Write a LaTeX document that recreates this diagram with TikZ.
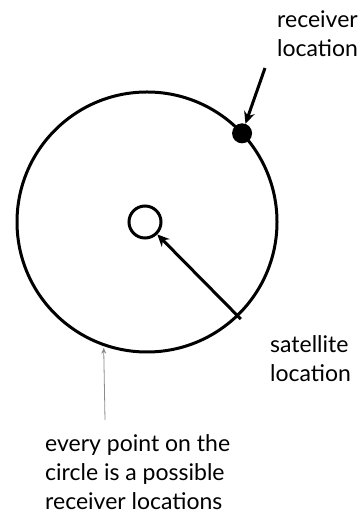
\documentclass[tikz,border=0pt]{standalone}
\usepackage{fontspec}
\setmainfont{Lato}
\usepackage{xcolor}
\usepackage{tikz}
\usetikzlibrary{arrows.meta,positioning,calc}
\tikzset{
  orbit/.style={draw, line width=3pt},
  rxdot/.style={circle, fill=black, inner sep=0pt, minimum size=20pt},
  satring/.style={circle, draw, line width=3pt, inner sep=0pt, minimum size=32pt},
  pointer/.style={-{Stealth[length=12pt,width=11pt]}, line width=3pt},
  thinpointer/.style={-{Stealth[length=6pt,width=5pt]}, line width=0.8pt, draw=black!45},
  note/.style={align=left, inner sep=0pt, font=\fontsize{23}{29}\selectfont}
}
\begin{document}
\begin{tikzpicture}[x=1pt,y=1pt]
\useasboundingbox (0,0) rectangle (361,513);
\coordinate (ctr) at (147,291);
\draw[orbit] (ctr) circle (130);
\node[satring] (sat) at (145,291) {};
\node[rxdot] (rx) at ($(ctr)+(43:130)$) {};
\coordinate (satpos) at ($(ctr)+(-46:130)$);
\coordinate (probe) at ($(ctr)+(-109:133)$);
\coordinate (rxtail) at (265,445);
\coordinate (probetail) at (105,93);
% labels
\node[note, anchor=west] (rxlabel) at (277,479) {receiver\\location};
\node[note, anchor=west] (satlabel) at (270,154) {satellite\\location};
\node[note, anchor=west] (circlelabel) at (45,41) {every point on the\\circle is a possible\\receiver locations};
% pointers
\draw[pointer] (rxtail) -- (rx);
\draw[pointer, shorten <=-5pt] (satpos) -- (sat);
\draw[thinpointer] (probetail) -- (probe);
\end{tikzpicture}
\end{document}
